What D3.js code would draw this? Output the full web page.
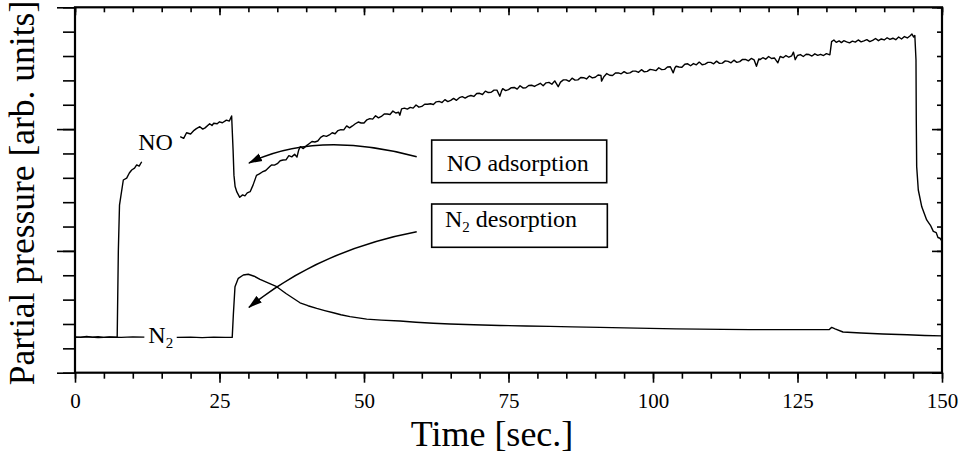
<!DOCTYPE html>
<html>
<head>
<meta charset="utf-8">
<script src="https://cdn.jsdelivr.net/npm/d3@7"></script>
<style>
  html, body { margin: 0; padding: 0; background: #fff; }
  svg { display: block; }
  text { font-family: "Liberation Serif", "Times New Roman", serif; fill: #000; }
</style>
</head>
<body>
<svg id="chart" width="962" height="459"></svg>
<script>
// Time axis [sec.] and arbitrary partial-pressure units
const xMajorTicks = [0, 25, 50, 75, 100, 125, 150];
const xMinorTicks = d3.range(0, 151, 5);
const yMajorTicks = [0, 5, 10, 15];
const yMinorTicks = d3.range(0, 16, 1);

// NO partial pressure trace [time, signal]; null = hidden behind the "NO" label
const noTrace = [
  [0,1.47],[1,1.45],[2,1.49],[3,1.46],[4,1.48],[5,1.45],[6,1.47],[7,1.46],[7.3,1.47],
  [7.5,5.03],[7.7,6.88],[7.96,7.29],[8.36,7.91],[8.94,7.99],[9.4,8.20],[9.81,8.32],
  [10.3,8.40],[10.67,8.53],[11.1,8.48],[11.54,8.66],
  [14,null],
  [18.2,9.69],[18.8,9.62],[19.3,9.85],[20,9.80],[20.6,9.95],[21,10.02],[21.6,10.10],[22.1,10.00],
  [22.5,10.05],[23.3,10.22],[23.7,10.15],[24,10.24],[24.6,10.22],[25,10.30],[25.5,10.26],
  [26.2,10.37],[26.7,10.33],[27.1,10.54],
  [27.35,9.14],[27.5,8.11],[27.7,7.64],[28.0,7.42],[28.5,7.20],[29.0,7.30],[29.4,7.26],
  [29.8,7.38],[30.3,7.43],[30.8,7.70],[31.4,8.10],[31.9,8.16],[32.4,8.24],[33.0,8.30],[33.7,8.46],
  [34,8.53],[34.5,8.52],[35,8.58],[35.5,8.70],[36,8.73],[36.5,8.74],[37,8.91],[37.5,8.86],
  [38,8.97],[38.4,8.85],[38.7,9.14],[39,9.28],[39.5,9.20],[40,9.31],[40.5,9.40],[41,9.49],
  [41.5,9.47],[42,9.51],[42.5,9.66],[43,9.73],[43.5,9.70],[44,9.76],[44.5,9.85],[45,9.81],
  [45.5,9.94],[46,9.98],[46.5,9.97],[47,10.13],[47.5,10.05],[48,10.13],[48.5,10.22],[49,10.29],
  [49.5,10.25],[50,10.25],[50.5,10.38],[51,10.43],[51.5,10.41],[52,10.55],[52.5,10.46],[53,10.52],
  [53.5,10.62],[54,10.62],[54.5,10.60],[55,10.74],[55.5,10.66],[56,10.69],[56.2,10.57],[56.5,10.83],
  [57,10.86],[57.5,10.82],[58,10.89],[58.5,10.86],[59,10.99],[59.5,10.90],[60,10.93],[60.5,11.02],
  [61,11.02],[61.5,11.04],[62,11.01],[62.5,11.12],[63,11.14],[63.5,11.09],[64,11.21],[64.5,11.13],
  [65,11.18],[65.5,11.26],[66,11.18],[66.5,11.29],[67,11.33],[67.5,11.27],[68,11.34],[68.5,11.38],
  [69,11.34],[69.5,11.46],[70,11.47],[70.5,11.42],[71,11.56],[71.5,11.50],[72,11.51],[72.5,11.60],
  [73,11.60],[73.5,11.35],[73.8,11.57],[74,11.66],[74.5,11.58],[75,11.62],[75.5,11.70],[76,11.71],
  [76.5,11.64],[77,11.78],[77.5,11.69],[78,11.70],[78.5,11.79],[79,11.80],[79.5,11.75],[80,11.82],
  [80.5,11.88],[81,11.78],[81.5,11.90],[82,11.92],[82.5,11.84],[83,11.98],[83.6,11.74],[84,11.93],
  [84.5,12.02],[85,12.02],[85.5,11.96],[86,12.09],[86.5,12.01],[87,12.02],[87.5,12.12],[88,12.11],
  [88.5,12.06],[89,12.18],[89.5,12.10],[90,12.13],[90.5,12.22],[91,12.20],[91.1,11.97],[91.5,12.15],
  [92,12.28],[92.5,12.21],[93,12.20],[93.5,12.30],[94,12.31],[94.5,12.27],[95,12.36],[95.5,12.29],
  [96,12.31],[96.5,12.38],[97,12.38],[97.5,12.33],[98,12.44],[98.5,12.35],[99,12.37],[99.5,12.45],
  [100,12.43],[100.5,12.40],[101,12.52],[101.5,12.44],[102,12.45],[102.5,12.55],[103,12.56],
  [103.5,12.31],[103.8,12.52],[104,12.58],[104.5,12.55],[105,12.54],[105.5,12.66],[106,12.68],
  [106.5,12.60],[107,12.69],[107.5,12.64],[108,12.75],[108.5,12.64],[109,12.67],[109.5,12.74],
  [110,12.74],[110.5,12.68],[111,12.79],[111.5,12.70],[112,12.71],[112.5,12.80],[113,12.78],
  [113.5,12.72],[114,12.83],[114.5,12.74],[115,12.77],[115.5,12.86],[116,12.86],[116.5,12.80],
  [117,12.90],[117.5,12.84],[117.9,12.58],[118.3,12.88],[118.5,12.85],[119,12.93],[119.5,12.87],
  [120,12.98],[120.5,12.90],[121,12.92],[121.6,12.72],[122,12.98],[122.5,12.93],[123,13.02],
  [123.5,12.95],[124,13.01],[124.3,13.16],[124.6,12.85],[125,13.02],[125.5,13.06],[126,12.98],
  [126.5,13.07],[127,13.06],[127.5,13.00],[128,13.09],[128.5,13.03],[129,13.07],[129.5,13.02],
  [130,13.10],[130.6,13.05],
  [130.9,13.59],[131.3,13.66],[131.7,13.56],[132.2,13.62],[132.6,13.55],[133,13.63],[133.5,13.58],
  [134,13.54],[134.5,13.61],[135,13.57],[135.5,13.66],[136,13.58],[136.5,13.62],[137,13.67],
  [137.5,13.59],[138,13.64],[138.5,13.72],[139,13.63],[139.5,13.70],[140,13.66],[140.5,13.75],
  [141,13.68],[141.5,13.73],[142,13.67],[142.5,13.78],[143,13.70],[143.5,13.80],[144,13.74],
  [144.5,13.83],[144.8,13.90],[145.1,13.78],[145.3,13.84],
  [145.5,12.84],[145.55,10.37],[145.62,8.46],[145.9,7.50],[146.5,6.81],[147.35,6.27],
  [148,6.05],[148.5,5.80],[149,5.75],[149.3,5.55],[149.65,5.52],[150,5.40]
];

// N2 partial pressure trace [time, signal]; null = hidden behind the "N2" label
const n2Trace = [
  [0,1.45],[2,1.47],[4,1.44],[6,1.46],[8,1.45],[10,1.47],[12,1.46],
  [15,null],
  [17.6,1.45],[20,1.46],[22,1.44],[24,1.46],[26,1.45],[27.2,1.45],
  [27.4,2.40],[27.68,3.53],[28.25,3.875],[29.12,4.01],[29.98,4.04],[31,3.96],[32.01,3.83],
  [33.5,3.68],[34.9,3.53],[36.5,3.25],[38.93,2.87],[40.3,2.75],[41.82,2.64],[43.2,2.55],
  [44.69,2.46],[46,2.38],[47.58,2.30],[50.47,2.20],[53,2.16],[56.23,2.12],[59,2.07],
  [61.99,2.03],[64.88,2.00],[69,1.97],[73.53,1.94],[78,1.92],[82.18,1.90],[86,1.88],
  [90.83,1.86],[95,1.84],[99.48,1.82],[104,1.80],[108.13,1.79],[112,1.78],[116.78,1.77],
  [121,1.77],[125.43,1.77],[130.5,1.77],[130.92,1.86],[131.5,1.80],[132.87,1.67],
  [136,1.63],[139.79,1.59],[144,1.56],[147,1.53],[150,1.51]
];

// Annotation boxes and arrows, in data units
const boxes = [
  { label: "NO", sub: "", rest: " adsorption", x0: 61.71, x1: 91.99, yTop: 9.55, yBot: 7.80, tx: 64.31, ty: 8.29 },
  { label: "N", sub: "2", rest: " desorption", x0: 61.71, x1: 92.10, yTop: 6.925, yBot: 5.148, tx: 64.0, ty: 5.99 }
];
const arrows = [
  { from: [59.12, 8.867], ctrl: [41.87, 9.963], to: [30.1, 8.61] },
  { from: [59.12, 5.788], ctrl: [42.39, 5.037], to: [30.1, 2.685] }
];
const curveLabels = [
  { main: "NO", sub: "", t: 10.95, v: 9.14 },
  { main: "N", sub: "2", t: 12.68, v: 1.23 }
];

const svg = d3.select("#chart");
const plot = { left: 75, right: 942, top: 7.3, bottom: 372.7 };

const x = d3.scaleLinear().domain([0, 150]).range([plot.left, plot.right]);
const y = d3.scaleLinear().domain([0, 15]).range([plot.bottom, plot.top]);

// Axes: major ticks carry labels, minor ticks are shorter
function styleAxis(g) {
  g.select(".domain").remove();
  g.selectAll(".tick line").attr("stroke", "#000").attr("stroke-width", 1.6);
}

svg.append("g").attr("transform", `translate(0,${plot.bottom})`)
  .call(d3.axisBottom(x).tickValues(xMinorTicks).tickSize(6).tickFormat(""))
  .call(styleAxis);
svg.append("g").attr("transform", `translate(0,${plot.bottom})`)
  .call(d3.axisBottom(x).tickValues(xMajorTicks).tickSize(10).tickPadding(10).tickFormat(d3.format("d")))
  .call(styleAxis)
  .call(g => g.selectAll("text").attr("font-size", 21).attr("fill", "#000"));

svg.append("g").attr("transform", `translate(0,${plot.top})`)
  .call(d3.axisTop(x).tickValues(xMinorTicks).tickSize(-5).tickFormat(""))
  .call(styleAxis);
svg.append("g").attr("transform", `translate(0,${plot.top})`)
  .call(d3.axisTop(x).tickValues(xMajorTicks).tickSize(-8).tickFormat(""))
  .call(styleAxis);

svg.append("g").attr("transform", `translate(${plot.left},0)`)
  .call(d3.axisLeft(y).tickValues(yMinorTicks).tickSize(12).tickFormat(""))
  .call(styleAxis);
svg.append("g").attr("transform", `translate(${plot.left},0)`)
  .call(d3.axisLeft(y).tickValues(yMajorTicks).tickSize(18).tickFormat(""))
  .call(styleAxis);

svg.append("g").attr("transform", `translate(${plot.right},0)`)
  .call(d3.axisRight(y).tickValues(yMinorTicks).tickSize(-5).tickFormat(""))
  .call(styleAxis);
svg.append("g").attr("transform", `translate(${plot.right},0)`)
  .call(d3.axisRight(y).tickValues(yMajorTicks).tickSize(-10).tickFormat(""))
  .call(styleAxis);

// Frame
svg.append("rect")
  .attr("x", plot.left).attr("y", plot.top)
  .attr("width", plot.right - plot.left).attr("height", plot.bottom - plot.top)
  .attr("fill", "none").attr("stroke", "#000").attr("stroke-width", 2.2);

// Traces
const line = d3.line()
  .defined(d => d[1] != null)
  .x(d => x(d[0]))
  .y(d => y(d[1]));

[noTrace, n2Trace].forEach(data => {
  svg.append("path")
    .datum(data)
    .attr("d", line)
    .attr("fill", "none")
    .attr("stroke", "#000")
    .attr("stroke-width", 1.4)
    .attr("stroke-linejoin", "round");
});

// Curve labels
curveLabels.forEach(l => {
  const t = svg.append("text")
    .attr("x", x(l.t)).attr("y", y(l.v))
    .attr("font-size", 24);
  t.append("tspan").text(l.main);
  if (l.sub) t.append("tspan").attr("font-size", 15).attr("dy", 5).text(l.sub);
});

// Arrowhead
svg.append("defs").append("marker")
  .attr("id", "head")
  .attr("markerUnits", "userSpaceOnUse")
  .attr("viewBox", "0 -5 14 10")
  .attr("refX", 13).attr("refY", 0)
  .attr("markerWidth", 14).attr("markerHeight", 10)
  .attr("orient", "auto")
  .append("path")
  .attr("d", "M0,-4.2L14,0L0,4.2Z")
  .attr("fill", "#000");

arrows.forEach(a => {
  const p = d3.path();
  p.moveTo(x(a.from[0]), y(a.from[1]));
  p.quadraticCurveTo(x(a.ctrl[0]), y(a.ctrl[1]), x(a.to[0]), y(a.to[1]));
  svg.append("path")
    .attr("d", p.toString())
    .attr("fill", "none")
    .attr("stroke", "#000")
    .attr("stroke-width", 1.6)
    .attr("marker-end", "url(#head)");
});

// Annotation boxes
boxes.forEach(b => {
  svg.append("rect")
    .attr("x", x(b.x0)).attr("y", y(b.yTop))
    .attr("width", x(b.x1) - x(b.x0)).attr("height", y(b.yBot) - y(b.yTop))
    .attr("fill", "#fff").attr("stroke", "#000").attr("stroke-width", 1.6);
  const t = svg.append("text")
    .attr("x", x(b.tx)).attr("y", y(b.ty))
    .attr("font-size", 24);
  t.append("tspan").text(b.label);
  if (b.sub) t.append("tspan").attr("font-size", 15).attr("dy", 5).text(b.sub);
  t.append("tspan").attr("dy", b.sub ? -5 : 0).text(b.rest);
});

// Axis titles
svg.append("text")
  .attr("x", 492).attr("y", 446)
  .attr("text-anchor", "middle")
  .attr("font-size", 36)
  .text("Time [sec.]");

svg.append("text")
  .attr("transform", `translate(34,${(plot.top + plot.bottom) / 2 + 3}) rotate(-90)`)
  .attr("text-anchor", "middle")
  .attr("font-size", 35.5)
  .text("Partial pressure [arb. units]");
</script>
</body>
</html>
